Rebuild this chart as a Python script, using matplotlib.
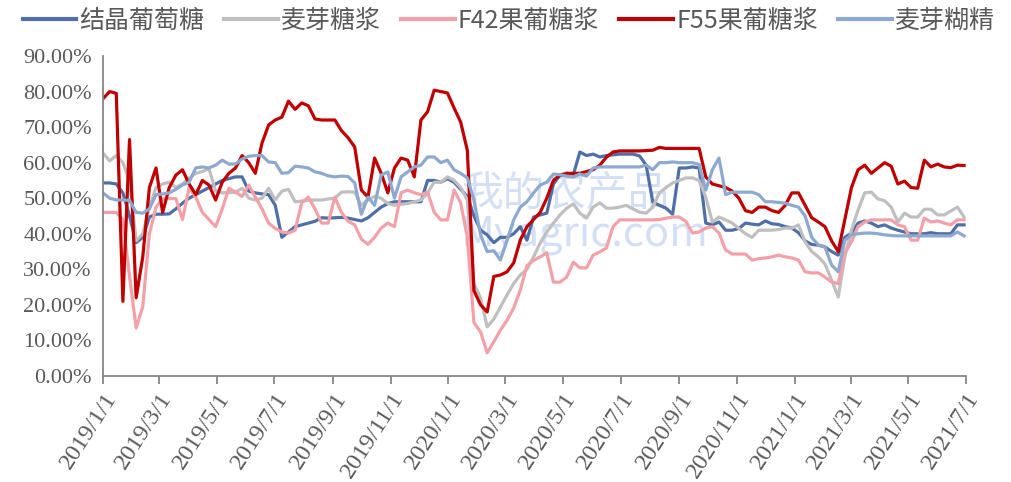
import matplotlib
matplotlib.use('Agg')
import matplotlib.pyplot as plt
import matplotlib.dates as mdates
from matplotlib.ticker import FuncFormatter
import pandas as pd

# weekly series, 2019-01-01 .. 2021-06-30 (values in %)
dates = pd.date_range('2019-01-01', periods=131, freq='7D')

names = ['结晶葡萄糖', '麦芽糖浆', 'F42果葡糖浆', 'F55果葡糖浆', '麦芽糊精']
colors = ['#4F6FA8', '#BFBFBF', '#F4A0A8', '#C00000', '#8EA9D0']

crystal = [54.3, 54.3, 54, 51.5, 45, 37.5, 39, 44.7, 45.5, 45.5,
           45.6, 47, 48.6, 50, 51, 52, 53, 54, 55, 55.5,
           56, 56, 52, 51.5, 51.2, 51, 48, 39, 40.5, 42,
           42.5, 43, 43.5, 44.5, 44.4, 44.5, 44.6, 44.4, 44, 43.6,
           44.5, 46, 47.5, 48.5, 49, 49, 49, 49, 49, 55,
           55, 54.5, 55.5, 54.5, 52.5, 50.5, 45, 41, 39.7, 37.5,
           39, 39, 40, 42, 38.2, 44.7, 45.3, 45.8, 54, 56.5,
           56.5, 56.6, 63, 62, 62.4, 61.6, 62, 62.2, 62.4, 62.4,
           62.4, 61.9, 59.3, 49, 48, 47.2, 45.5, 58.5, 58.5, 58.8,
           58.5, 43, 42.5, 43.3, 41, 41, 41.5, 43, 42.7, 42.5,
           43.6, 42.8, 42.6, 42, 41.6, 40.3, 38, 37, 36.8, 36.3,
           35, 34, 39, 40.2, 43, 43.6, 43, 42, 42.5, 41.6,
           41, 40.5, 40, 40, 40, 40.3, 40, 40, 40, 42.5, 42.5]

maltose = [62.7, 60.5, 62, 60, 55, 38, 40, 47.5, 53, 54,
           54.5, 53, 54, 55.7, 57, 57.5, 58.3, 52, 51.5, 51.6,
           51.7, 52.8, 50, 49.5, 50, 52.8, 49.5, 52, 52.5, 49,
           49.2, 49.4, 49.5, 49.5, 49.8, 50, 51.7, 51.8, 51.7, 48,
           49.5, 50.5, 50, 48.5, 48, 48.3, 48.5, 49, 49.5, 51.5,
           54.5, 54.5, 56, 55, 53, 49.5, 26, 22, 13.8, 16,
           19.4, 22.8, 26, 28.4, 30, 33.5, 37.4, 40.5, 43, 45.3,
           47.2, 48.4, 45.8, 44.4, 47.5, 48.7, 47.2, 47.2, 47.5, 48,
           47, 46.1, 45.8, 47.5, 51.5, 53, 54.3, 55, 55.7, 55.7,
           55, 50.3, 43.3, 44.7, 43.9, 43, 41.5, 40, 39, 41,
           41, 41, 41.2, 41.6, 41.6, 42.5, 37.7, 35, 33.5, 31.5,
           27, 22.2, 33.5, 41, 46.7, 51.5, 51.7, 49.8, 49.3, 47.5,
           43.3, 45.8, 44.7, 44.7, 46.9, 46.9, 45.3, 45.3, 46.4, 47.5, 44.7]

f42 = [46, 46, 46, 44, 28, 13.5, 19.5, 40, 47.5, 49.8,
       49.9, 49.9, 44, 53, 50.3, 46, 44, 42, 47, 52.8,
       51.7, 50.5, 53.7, 50.3, 47, 43, 41.5, 40.5, 40.2, 41,
       48.7, 50.3, 47, 43, 43, 50.3, 46, 43.5, 42.5, 38.5,
       37, 39, 41.6, 43, 42, 51.5, 52.3, 51.5, 51, 51.7,
       46, 43.9, 43.9, 52.3, 48.7, 39, 15, 12.4, 6.5, 9.6,
       12.9, 15.7, 19.1, 24.2, 31, 32.5, 33.5, 34.6, 26.4, 26.4,
       27.8, 32, 30.4, 30.4, 34, 34.9, 36, 42, 43.9, 43.9,
       43.9, 43.9, 43.9, 43.9, 44, 44.4, 44.7, 44.7, 43.5, 40.2,
       40.5, 41.6, 42, 40.2, 35.4, 34.3, 34.3, 34.3, 32.6, 33,
       33.2, 33.5, 34, 33.5, 33.2, 32.6, 29.3, 29, 29, 27.8,
       26.4, 26, 34.6, 37.7, 42, 43.3, 43.9, 43.9, 43.9, 43.9,
       42.5, 42, 38.2, 38.2, 44.4, 43.3, 43.6, 43, 42.5, 43.9, 43.9]

f55 = [78, 80, 79.5, 21, 66.5, 22, 33.5, 53, 58.5, 46,
       53, 56.5, 58, 54, 51, 55, 53.7, 49.5, 54.5, 57,
       58.5, 62, 60, 57, 65.5, 70.6, 72, 72.8, 77.3, 75,
       76.8, 76, 72.3, 72, 72, 72, 69, 67, 64.4, 52.3,
       50.3, 61.3, 57, 51.5, 58.5, 61.3, 60.7, 56, 72, 74.3,
       80.4, 80, 79.6, 75.4, 71.4, 63.5, 24, 20, 18, 28,
       28.4, 29.3, 31.8, 38.2, 42, 44, 46, 50, 55, 56.5,
       57, 57, 57, 57.5, 58, 59.3, 61.5, 63, 63.3, 63.3,
       63.3, 63.3, 63.4, 63.5, 64.3, 64, 64, 64, 64, 64,
       64, 56, 54, 53.5, 53, 52, 50, 46.5, 46, 47.5,
       47.5, 46.5, 46, 48, 51.5, 51.5, 48, 44.5, 43.3, 42,
       38, 35, 44, 53, 58, 59.3, 57, 58.5, 60, 59,
       54, 54.8, 53, 52.8, 60.7, 58.8, 59.6, 58.8, 58.6, 59.3, 59.2]

dextrin = [51.5, 50, 49.5, 49.5, 49.4, 46, 45.8, 47, 51, 51.2,
           51.5, 52.5, 53.7, 54.5, 58.5, 58.8, 58.5, 59.3, 60.7, 59.6,
           59.6, 61, 61.8, 62, 62, 60.2, 60, 57, 57.2, 59,
           58.8, 58.5, 57.4, 57, 56.3, 56, 56.2, 56.1, 54.3, 45.5,
           50.3, 48, 56.5, 57.4, 50, 56, 57.4, 58.8, 59.3, 61.6,
           61.6, 60, 60.7, 58, 57, 55.7, 49.5, 39.7, 35, 35.2,
           32.6, 38.2, 43.9, 47.5, 49, 51.5, 53.7, 54.5, 56.8, 56.6,
           56.2, 56, 56.8, 56.2, 58.5, 58.8, 58.8, 58.8, 58.8, 58.8,
           58.8, 58.8, 59.3, 58, 60, 60, 60.2, 60, 60, 60,
           59.5, 52.3, 58, 61.3, 51, 51.7, 51.7, 51.7, 51.7, 51,
           49, 49, 48.8, 48.6, 48, 47.5, 45, 39, 36.8, 36.3,
           31.2, 29.3, 38.2, 39.7, 40, 40.2, 40.2, 40, 39.7, 39.5,
           39.4, 39.4, 39.4, 39.4, 39.4, 39.4, 39.4, 39.4, 39.4, 40.5, 39.4]

series = [crystal, maltose, f42, f55, dextrin]

plt.rcParams['font.family'] = ['Liberation Serif', 'Noto Sans CJK SC']

fig = plt.figure(figsize=(10.12, 4.82), dpi=100)
ax = fig.add_axes([0.1018, 0.22, 0.8527, 0.6638])

# faint watermark (one text block so the two lines do not collide)
ax.text(0.415, 0.505, '我的农产品\nMyagric.com', transform=ax.transAxes, fontsize=30,
        color='#C5D5F2', alpha=0.75, family=['Noto Sans CJK SC', 'DejaVu Sans'],
        ha='left', va='center', linespacing=0.95, zorder=0)

for name, vals, c in zip(names, series, colors):
    ax.plot(dates, [v / 100 for v in vals], color=c, lw=2.3, label=name, zorder=2)

ax.set_ylim(0, 0.9)
ax.set_yticks([i / 10 for i in range(10)])
ax.yaxis.set_major_formatter(FuncFormatter(lambda v, p: '%.2f%%' % (v * 100)))
ax.set_xlim(pd.Timestamp('2019-01-01'), pd.Timestamp('2021-07-01'))
ax.xaxis.set_major_locator(mdates.MonthLocator(bymonth=[1, 3, 5, 7, 9, 11]))
ax.xaxis.set_major_formatter(FuncFormatter(
    lambda v, p: '%d/%d/%d' % (mdates.num2date(v).year, mdates.num2date(v).month, 1)))

for s in ['top', 'right']:
    ax.spines[s].set_visible(False)
for s in ['left', 'bottom']:
    ax.spines[s].set_color('#868686')
    ax.spines[s].set_linewidth(1.3)

ax.tick_params(axis='y', length=0, labelsize=16, labelcolor='#595959', pad=8)
ax.tick_params(axis='x', length=6, width=1.3, color='#868686', direction='out',
               labelsize=17.5, labelcolor='#595959', pad=3)
for lab in ax.get_xticklabels():
    lab.set_rotation(57)
    lab.set_ha('right')
    lab.set_va('top')
    lab.set_rotation_mode('anchor')

leg = fig.legend(loc='upper left', bbox_to_anchor=(0.015, 1.0), ncol=5, frameon=False,
                 prop={'family': ['Noto Sans CJK SC', 'DejaVu Sans'], 'size': 18},
                 handlelength=2.15, handletextpad=0.12, columnspacing=0.8,
                 borderpad=0.2, borderaxespad=0.1)
for t in leg.get_texts():
    t.set_color('#595959')
for h in leg.get_lines():
    h.set_linewidth(3)

fig.savefig('out.png', dpi=100)
